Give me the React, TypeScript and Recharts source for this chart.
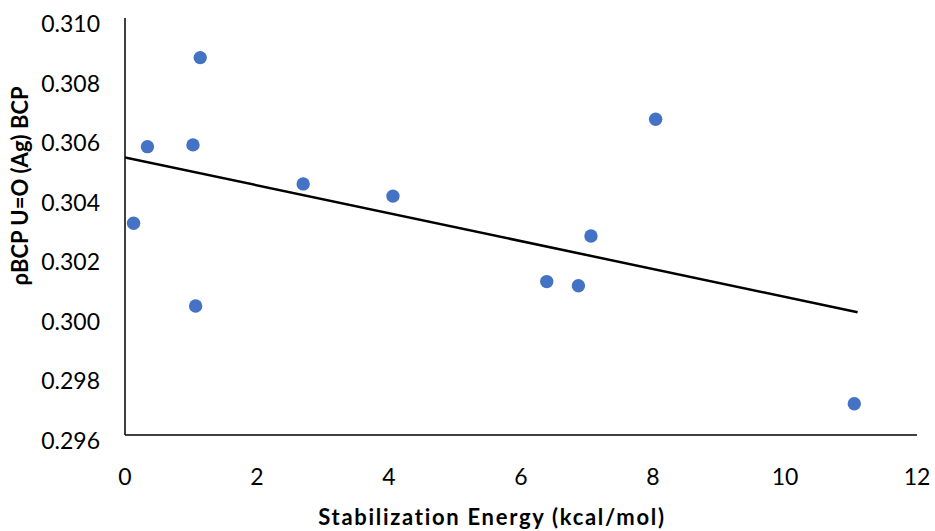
import React from 'react';
import { ScatterChart, Scatter, XAxis, YAxis, Label } from 'recharts';

const energies = [0.13, 0.34, 1.03, 1.14, 1.07, 2.70, 4.06, 6.39, 6.87, 7.06, 8.04, 11.05];
const densities = [0.30311, 0.30568, 0.30574, 0.30867, 0.30033, 0.30443, 0.30402, 0.30115, 0.30101, 0.30268, 0.30660, 0.29705];
const trendX = [0, 11.1];
const trendY = [0.30532, 0.30012];
const xTicks = [0, 2, 4, 6, 8, 10, 12];
const yTicks = [0.296, 0.298, 0.3, 0.302, 0.304, 0.306, 0.308, 0.31];

const points = energies.map((x, i) => ({ x, y: densities[i] }));
const trend = trendX.map((x, i) => ({ x, y: trendY[i] }));

const FONT = 'Lato, "Open Sans", sans-serif';

const YTick = (props: any) => {
  const { x, y, payload } = props;
  return (
    <text x={x - 25} y={y + 14} textAnchor="end" fontFamily={FONT} fontSize={23} fill="#000">
      {Number(payload.value).toFixed(3)}
    </text>
  );
};

const XTick = (props: any) => {
  const { x, y, payload } = props;
  return (
    <text x={x} y={y + 50} textAnchor="middle" fontFamily={FONT} fontSize={23} fill="#000">
      {payload.value}
    </text>
  );
};

export default function App() {
  return (
    <div style={{ position: 'absolute', left: 0, top: 0, width: 935, height: 531 }}>
      <ScatterChart width={935} height={531} margin={{ top: 18, right: 18, bottom: 0, left: 0 }}>
        <XAxis
          type="number"
          dataKey="x"
          domain={[0, 12]}
          ticks={xTicks}
          height={96}
          tickSize={0}
          tickMargin={0}
          tickLine={false}
          axisLine={{ stroke: '#000', strokeWidth: 1.5 }}
          tick={<XTick />}
          allowDataOverflow
        >
          <Label
            content={() => (
              <text
                x={492}
                y={525}
                textAnchor="middle"
                fontFamily={FONT}
                fontWeight="bold"
                fontSize={22}
                letterSpacing={1.7}
                fill="#000"
              >
                Stabilization Energy (kcal/mol)
              </text>
            )}
          />
        </XAxis>
        <YAxis
          type="number"
          dataKey="y"
          domain={[0.296, 0.31]}
          ticks={yTicks}
          width={125}
          tickSize={0}
          tickMargin={0}
          tickLine={false}
          axisLine={{ stroke: '#000', strokeWidth: 1.5 }}
          tick={<YTick />}
          allowDataOverflow
        >
          <Label
            content={() => (
              <text
                x={28}
                y={186}
                transform="rotate(-90 28 186)"
                textAnchor="middle"
                fontFamily={FONT}
                fontWeight="bold"
                fontSize={22}
                fill="#000"
              >
                ρBCP U=O (Ag) BCP
              </text>
            )}
          />
        </YAxis>
        <Scatter
          data={trend}
          line={{ stroke: '#000', strokeWidth: 2.5 }}
          shape={() => <g />}
          isAnimationActive={false}
          legendType="none"
        />
        <Scatter
          data={points}
          fill="#4472C4"
          shape={(p: any) => <circle cx={p.cx} cy={p.cy} r={6.7} fill="#4472C4" />}
          isAnimationActive={false}
        />
      </ScatterChart>
    </div>
  );
}
